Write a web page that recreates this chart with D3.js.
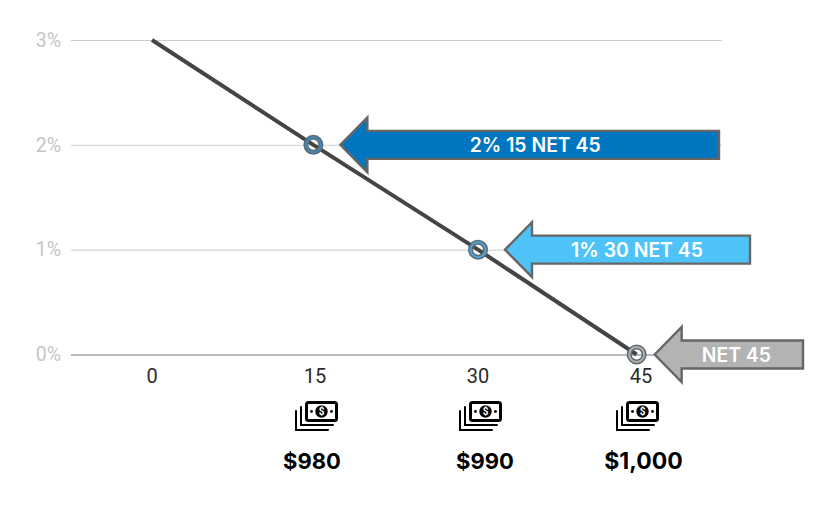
<!DOCTYPE html>
<html><head><meta charset="utf-8">
<script src="https://cdn.jsdelivr.net/npm/d3@7"></script>
<style>html,body{margin:0;background:#fff}svg{display:block}</style></head>
<body><svg id="c" width="835" height="522"></svg>
<script>
const yTicks=[0,1,2,3];
const dayLabels=["0","15","30","45"];
const lineDays=[0,14.85,30,44.6];
const lineRates=[3,2,1,0];
const prices=["$980","$990","$1,000"];
const priceDays=["15","30","45"];
const arrowLabels=["2% 15 NET 45","1% 30 NET 45","NET 45"];
const arrowRates=[2,1,0];
const arrowDays=[14.85,30,44.6];
const arrowColors=["#0076c0","#4fc3f7","#b3b3b3"];
const ringColors=["#3f86bd","#4fa3d6","#b0b0b0"];
const arrowEnds=[719,750,803];

const svg=d3.select("#c");
const x=d3.scaleLinear().domain([0,45]).range([152,641]);
const xb=d3.scalePoint().domain(dayLabels).range([152,641]);
const y=d3.scaleLinear().domain([0,3]).range([354.5,40]);
const F="Roboto, sans-serif";
const B="Inter, sans-serif";

// grid
const yAxis=d3.axisLeft(y).tickValues(yTicks).tickFormat(d=>d+"%").tickSize(-651).tickPadding(10);
const gy=svg.append("g").attr("transform","translate(71,0)").call(yAxis);
gy.select(".domain").remove();
gy.selectAll(".tick line").attr("stroke",d=>d===0?"#777777":"#cccccc").attr("stroke-width",1);
gy.selectAll(".tick text").attr("font-family",F).attr("font-size",19.5).attr("fill","#c6c6c6");

// x tick labels
const xAxis=d3.axisBottom(xb).tickSize(0).tickPadding(13.5);
const gx=svg.append("g").attr("transform","translate(-0.5,355)").call(xAxis);
gx.select(".domain").remove();
gx.selectAll(".tick text").attr("font-family",F).attr("font-size",20).attr("fill","#2b2b2b");

// line
const line=d3.line().x((d,i)=>x(lineDays[i])).y(d=>y(d));
svg.append("path").datum(lineRates).attr("d",line).attr("fill","none").attr("stroke","#454545").attr("stroke-width",4);

// rings
arrowRates.forEach((r,i)=>{
  svg.append("circle").attr("cx",x(arrowDays[i])).attr("cy",y(r)).attr("r",7.5)
    .attr("fill","none").attr("stroke","#5f6b73").attr("stroke-width",5);
  svg.append("circle").attr("cx",x(arrowDays[i])).attr("cy",y(r)).attr("r",7.5)
    .attr("fill","none").attr("stroke",ringColors[i]).attr("stroke-width",2);
});

// arrows
arrowRates.forEach((r,i)=>{
  const cy=y(r), tip=x(arrowDays[i])+(i===2?18:27), head=tip+27, e=arrowEnds[i];
  const p=d3.path();
  p.moveTo(tip,cy);p.lineTo(head,cy-27.5);p.lineTo(head,cy-14);p.lineTo(e,cy-14);
  p.lineTo(e,cy+14);p.lineTo(head,cy+14);p.lineTo(head,cy+27.5);p.closePath();
  svg.append("path").attr("d",p.toString()).attr("fill",arrowColors[i]).attr("stroke","#666666").attr("stroke-width",2.4);
  svg.append("text").attr("x",(head+e)/2+[-8,-4,-6][i]).attr("y",cy+7).attr("text-anchor","middle")
    .attr("font-family",B).attr("font-weight",600).attr("font-size",19.4)
    .attr("fill","#ffffff").text(arrowLabels[i]);
});

// money icons and prices
const iconOffsets=[-20,-19,-25];
const priceCenters=[312,485,643.5];
prices.forEach((t,i)=>{
  const cx=xb(priceDays[i]);
  const g=svg.append("g").attr("transform",`translate(${cx+iconOffsets[i]},401)`).attr("fill","none").attr("stroke","#000");
  g.append("rect").attr("x",11.5).attr("y",1.5).attr("width",30).attr("height",18).attr("rx",2).attr("stroke-width",3);
  g.append("circle").attr("cx",26.5).attr("cy",10.5).attr("r",6.2).attr("fill","#000").attr("stroke","none");
  g.append("text").attr("x",26.5).attr("y",14).attr("text-anchor","middle").attr("font-family",F).attr("font-weight",700).attr("font-size",10).attr("fill","#fff").attr("stroke","none").text("$");
  g.append("circle").attr("cx",16.5).attr("cy",10.5).attr("r",1.4).attr("fill","#000").attr("stroke","none");
  g.append("circle").attr("cx",36.5).attr("cy",10.5).attr("r",1.4).attr("fill","#000").attr("stroke","none");
  g.append("path").attr("stroke-width",2).attr("stroke-linecap","round").attr("d","M6,6V24H38");
  g.append("path").attr("stroke-width",2).attr("stroke-linecap","round").attr("d","M1,10V29H33");
  svg.append("text").attr("x",priceCenters[i]).attr("y",469).attr("text-anchor","middle")
    .attr("font-family",B).attr("font-weight",700).attr("font-size",i===2?23:22).attr("fill","#000").text(t);
});
</script></body></html>
